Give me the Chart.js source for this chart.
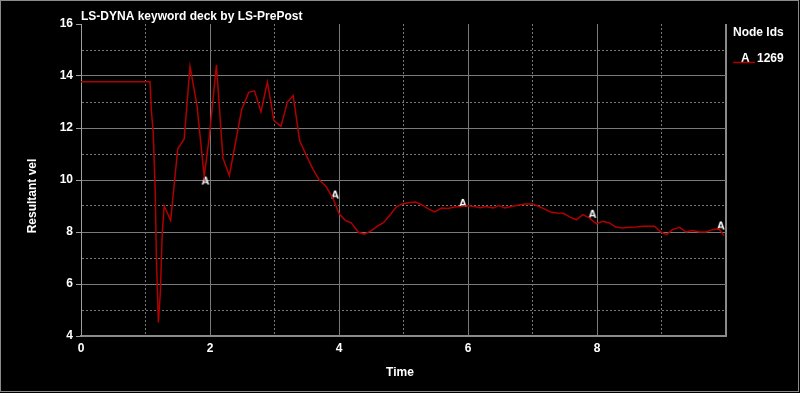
<!DOCTYPE html>
<html>
<head>
<meta charset="utf-8">
<title>LS-DYNA keyword deck by LS-PrePost</title>
<script src="https://cdn.jsdelivr.net/npm/chart.js@4.4.1/dist/chart.umd.min.js"></script>
<style>
  html, body { margin: 0; padding: 0; background: #000; }
  #wrap { width: 800px; height: 393px; position: relative; }
</style>
</head>
<body>
<div id="wrap"><canvas id="chart" width="800" height="393"></canvas></div>
<script>
// Resultant velocity of node 1269 over time
const timeValues = [0, 1.07, 1.09, 1.12, 1.15, 1.17, 1.20, 1.23, 1.26, 1.29, 1.39, 1.50, 1.60, 1.69, 1.80,
  1.91, 1.99, 2.10, 2.20, 2.30, 2.49, 2.60, 2.69, 2.79, 2.89, 2.99, 3.10, 3.20, 3.29, 3.39, 3.50,
  3.60, 3.70, 3.80, 3.91, 4.00, 4.10, 4.19, 4.30, 4.39, 4.49, 4.59, 4.69, 4.80, 4.89, 4.99, 5.10,
  5.19, 5.28, 5.38, 5.48, 5.59, 5.69, 5.79, 5.90, 6.00, 6.09, 6.19, 6.28, 6.39, 6.48, 6.57, 6.67,
  6.79, 6.89, 7.00, 7.10, 7.19, 7.28, 7.38, 7.48, 7.57, 7.68, 7.78, 7.88, 7.99, 8.09, 8.19, 8.29,
  8.40, 8.50, 8.61, 8.71, 8.81, 8.89, 8.99, 9.08, 9.17, 9.28, 9.38, 9.48, 9.59, 9.69, 9.79, 9.89, 9.97];
const velValues = [13.78, 13.78, 12.70, 11.82, 9.63, 6.90, 4.52, 5.67, 7.97, 9.00, 8.45, 11.20, 11.58, 14.37, 12.83,
  10.14, 11.68, 14.43, 10.85, 10.17, 12.70, 13.37, 13.43, 12.62, 13.77, 12.29, 12.06, 13.00, 13.24, 11.51, 10.91,
  10.40, 9.98, 9.75, 9.28, 8.71, 8.44, 8.35, 7.99, 7.92, 8.03, 8.22, 8.36, 8.68, 8.97, 9.09, 9.13,
  9.15, 9.05, 8.90, 8.77, 8.92, 8.90, 8.96, 8.98, 9.01, 8.98, 8.93, 8.98, 8.92, 9.02, 8.92, 8.98,
  9.04, 9.08, 9.08, 8.98, 8.88, 8.77, 8.73, 8.72, 8.59, 8.47, 8.67, 8.54, 8.31, 8.41, 8.35, 8.19,
  8.15, 8.18, 8.19, 8.22, 8.22, 8.22, 8.00, 7.90, 8.09, 8.18, 8.00, 8.06, 8.00, 8.00, 8.09, 8.12, 7.86];

// "A" curve markers
const markerTimes = [1.93, 3.94, 5.92, 7.93, 9.92];
const markerVals = [9.98, 9.44, 9.12, 8.70, 8.25];

const xTickLabels = [0, 2, 4, 6, 8];
const yTickLabels = [4, 6, 8, 10, 12, 14, 16];

const nodeId = '1269';
const FONT = '"Liberation Sans", Arial, sans-serif';
const lineColor = '#b00000';

// small canvas used as the point style for the curve markers
function makeMarker(letter) {
  const c = document.createElement('canvas');
  c.width = 12;
  c.height = 14;
  const g = c.getContext('2d');
  g.fillStyle = '#ffffff';
  g.font = 'bold 11px ' + FONT;
  g.textAlign = 'center';
  g.textBaseline = 'middle';
  g.fillText(letter, 6, 7.5);
  return c;
}

// Frame, titles and legend drawn on top of the chart
const decorations = {
  id: 'decorations',
  beforeDraw(chart) {
    const ctx = chart.ctx;
    ctx.save();
    ctx.fillStyle = '#000';
    ctx.fillRect(0, 0, chart.width, chart.height);
    ctx.restore();
  },
  afterDraw(chart) {
    const ctx = chart.ctx;
    ctx.save();
    // outer frame
    ctx.strokeStyle = '#8a8a8a';
    ctx.lineWidth = 1;
    ctx.strokeRect(0.5, 0.5, 798, 391);

    ctx.fillStyle = '#ffffff';
    ctx.font = 'bold 12px ' + FONT;
    ctx.textBaseline = 'alphabetic';
    ctx.textAlign = 'left';
    ctx.fillText('LS-DYNA keyword deck by LS-PrePost', 81, 19.5);

    // legend
    ctx.fillText('Node Ids', 733, 36);
    ctx.fillText('A', 741, 61.5);
    ctx.fillText(nodeId, 757, 61.5);
    ctx.strokeStyle = lineColor;
    ctx.lineWidth = 1.5;
    ctx.beginPath();
    ctx.moveTo(733, 62.5);
    ctx.lineTo(755, 62.5);
    ctx.stroke();

    // axis titles
    ctx.textAlign = 'center';
    ctx.textBaseline = 'middle';
    ctx.fillText('Time', 400, 373);
    ctx.translate(33, 196);
    ctx.rotate(-Math.PI / 2);
    ctx.fillText('Resultant vel', 0, 0);
    ctx.restore();
  }
};

const isMajor = (v, list) => list.includes(v);
const dashFor = (list) => (c) => (c.tick && !isMajor(c.tick.value, list)) ? [2, 2] : [];

const ctx = document.getElementById('chart').getContext('2d');
new Chart(ctx, {
  type: 'line',
  data: {
    datasets: [
      {
        data: timeValues.map((t, i) => ({ x: t, y: velValues[i] })),
        borderColor: lineColor,
        borderWidth: 1.5,
        pointRadius: 0,
        tension: 0,
        fill: false
      },
      {
        data: markerTimes.map((t, i) => ({ x: t, y: markerVals[i] })),
        showLine: false,
        pointStyle: makeMarker('A'),
        pointRadius: 6
      }
    ]
  },
  options: {
    responsive: false,
    animation: false,
    layout: { padding: { top: 24, right: 74, left: 0, bottom: 0 } },
    plugins: {
      legend: { display: false },
      tooltip: { enabled: false },
      title: { display: false }
    },
    scales: {
      x: {
        type: 'linear',
        min: 0,
        max: 10,
        afterFit: (s) => { s.height = 57; },
        ticks: {
          stepSize: 1,
          autoSkip: false,
          maxRotation: 0,
          padding: 5,
          color: '#ffffff',
          font: { family: FONT, size: 12, weight: 'bold' },
          callback: (v) => xTickLabels.includes(v) ? String(v) : ''
        },
        grid: {
          drawTicks: false,
          color: (c) => c.tick && c.tick.value === 10 ? '#8a8a8a' : (isMajor(c.tick && c.tick.value, xTickLabels) ? '#7a7a7a' : '#777777'),
          lineWidth: (c) => c.tick && c.tick.value === 10 ? 2 : 1
        },
        border: { color: '#8a8a8a', width: 2, dash: dashFor(xTickLabels.concat([10])) }
      },
      y: {
        type: 'linear',
        min: 4,
        max: 16,
        afterFit: (s) => { s.width = 81; },
        ticks: {
          stepSize: 1,
          autoSkip: false,
          padding: 3,
          color: '#ffffff',
          font: { family: FONT, size: 12, weight: 'bold' },
          callback: (v) => yTickLabels.includes(v) ? String(v) : ''
        },
        grid: {
          tickLength: 5,
          color: (c) => c.tick && c.tick.value === 16 ? 'rgba(0,0,0,0)' : (isMajor(c.tick && c.tick.value, yTickLabels) ? '#7a7a7a' : '#777777'),
          tickColor: (c) => c.tick && isMajor(c.tick.value, yTickLabels) ? '#a0a0a0' : 'rgba(0,0,0,0)'
        },
        border: { color: '#a0a0a0', width: 1, dash: dashFor(yTickLabels) }
      }
    }
  },
  plugins: [decorations]
});
</script>
</body>
</html>
